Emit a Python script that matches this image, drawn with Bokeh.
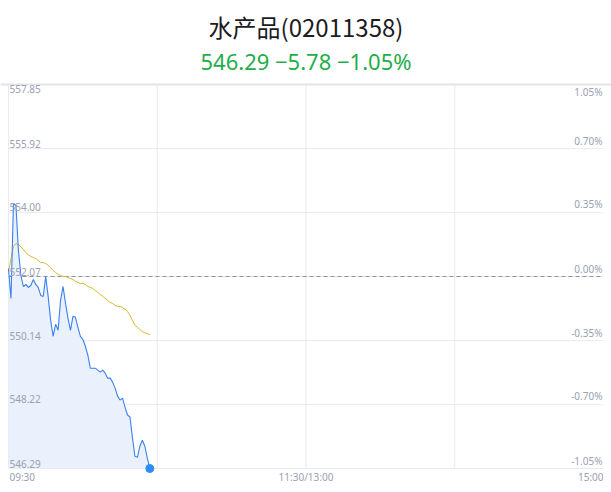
from bokeh.plotting import figure
from bokeh.models import Range1d, Label, ColumnDataSource
from bokeh.embed import file_html
from bokeh.resources import INLINE

title_text = "水产品(02011358)"
subtitle_text = "546.29 −5.78 −1.05%"
base_price = 552.07
y_ticks = [546.29, 548.22, 550.14, 552.07, 554.00, 555.92, 557.85]
y_labels = ["546.29", "548.22", "550.14", "552.07", "554.00", "555.92", "557.85"]
pct_labels = ["-1.05%", "-0.70%", "-0.35%", "0.00%", "0.35%", "0.70%", "1.05%"]
x_ticks = [0, 60, 120, 180, 240]
time_labels = ["09:30", "11:30/13:00", "15:00"]
time_label_pos = [0, 120, 240]

price = [552.31, 551.41, 554.27, 554.21, 552.85, 552.10, 551.77, 551.83, 551.74, 551.80,
         551.98, 551.83, 551.74, 551.50, 551.47, 552.07, 551.47, 550.75, 550.27, 550.63,
         550.45, 551.35, 551.77, 551.26, 550.81, 550.45, 550.87, 550.84, 550.54, 550.27,
         550.18, 549.97, 549.70, 549.31, 549.31, 549.31, 549.25, 549.19, 549.25, 549.16,
         549.01, 549.01, 548.89, 548.71, 548.47, 548.35, 548.41, 548.14, 547.90, 547.84,
         547.21, 546.66, 546.63, 546.96, 547.14, 546.96, 546.60, 546.29]
avg_price = [552.19, 552.61, 552.97, 553.06, 553.03, 552.97, 552.88, 552.79, 552.73, 552.67,
             552.64, 552.61, 552.55, 552.49, 552.49, 552.46, 552.40, 552.34, 552.25, 552.19,
             552.13, 552.10, 552.07, 552.07, 552.04, 552.01, 551.98, 551.92, 551.89, 551.86,
             551.86, 551.83, 551.77, 551.74, 551.71, 551.65, 551.59, 551.53, 551.47, 551.41,
             551.35, 551.29, 551.26, 551.20, 551.17, 551.17, 551.14, 551.08, 551.02, 550.90,
             550.75, 550.60, 550.54, 550.47, 550.41, 550.38, 550.35, 550.32]
minutes = list(range(len(price)))

# layout: chart area in page pixels
W, H = 611, 492
L, R, T, B = 8, 603, 84, 468
xmin, xmax = x_ticks[0], x_ticks[-1]
ymin, ymax = y_ticks[0], y_ticks[-1]
dx = (xmax - xmin) / (R - L)
dy = (ymax - ymin) / (B - T)
x0 = xmin - L * dx
x1 = xmax + (W - R) * dx
y1 = ymax + T * dy
y0 = ymin - (H - B) * dy


def py(pix):
    return y1 - pix * dy


src = ColumnDataSource(dict(t=minutes, p=price, a=avg_price, b=[ymin] * len(price)))

p = figure(width=W, height=H, output_backend="svg", toolbar_location=None,
           x_range=Range1d(x0, x1), y_range=Range1d(y0, y1),
           min_border=0)
p.outline_line_color = None
p.background_fill_color = "white"
p.border_fill_color = "white"
p.xaxis.visible = False
p.yaxis.visible = False
p.grid.visible = False

grid_c = "#e9e9ef"
# horizontal grid (top line full width, thicker)
p.segment(x0=[xmin] * 6, x1=[xmax] * 6, y0=y_ticks[:-1], y1=y_ticks[:-1],
          line_color=grid_c, line_width=1)
p.segment(x0=[x0], x1=[x1], y0=[ymax], y1=[ymax], line_color="#e4e4ea", line_width=2)
# vertical grid
p.segment(x0=x_ticks[:-1], x1=x_ticks[:-1], y0=[ymin] * 4, y1=[ymax] * 4,
          line_color=grid_c, line_width=1)
# base line
p.segment(x0=[xmin], x1=[xmax], y0=[base_price], y1=[base_price],
          line_color="#8a94ab", line_width=1, line_dash="4 3")

p.varea(x="t", y1="b", y2="p", source=src, fill_color="#eaf1fd", fill_alpha=1)
p.line(x="t", y="a", source=src, line_color="#d8b62a", line_width=1)
p.line(x="t", y="p", source=src, line_color="#3a80f0", line_width=1.1)
p.scatter(x=[minutes[-1]], y=[price[-1]], size=8, color="#2e8cf5")

lab_color = "#9aa0b2"
for i, (v, lt, rt) in enumerate(zip(y_ticks, y_labels, pct_labels)):
    top = i == len(y_ticks) - 1
    base = "top" if top else "bottom"
    yo = 0 if top else 1
    p.add_layout(Label(x=xmin, y=v, text=lt, text_font="Noto Sans", text_font_size="10px",
                       text_color=lab_color, text_align="left", text_baseline=base,
                       x_offset=1, y_offset=yo))
    p.add_layout(Label(x=xmax, y=v, text=rt, text_font="Noto Sans", text_font_size="10px",
                       text_color=lab_color, text_align="right", text_baseline=base,
                       x_offset=-1, y_offset=yo))

for xv, txt, al in zip(time_label_pos, time_labels, ["left", "center", "right"]):
    p.add_layout(Label(x=xv, y=py(476), text=txt, text_font="Noto Sans", text_font_size="10px",
                       text_color=lab_color, text_align=al, text_baseline="middle",
                       x_offset=1 if al == "left" else 0))

p.add_layout(Label(x=120, y=py(26), text=title_text, text_font="Noto Sans CJK SC",
                   text_font_size="24px", text_color="#1c1c22", text_align="center",
                   text_baseline="middle"))
p.add_layout(Label(x=120, y=py(60), text=subtitle_text, text_font="Noto Sans",
                   text_font_size="22px", text_color="#1fae4a", text_align="center",
                   text_baseline="middle"))

open("out.html", "w").write(file_html(p, INLINE))
